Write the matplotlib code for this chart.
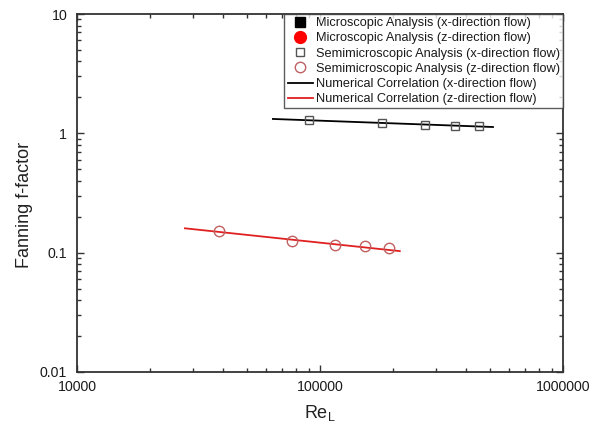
import matplotlib
matplotlib.use("Agg")
import matplotlib.pyplot as plt
from matplotlib.ticker import LogLocator, NullFormatter, FixedLocator, FixedFormatter

plt.rcParams['font.family'] = ['Liberation Sans', 'DejaVu Sans']

# Semimicroscopic analysis, x-direction flow
re_x = [90000, 180000, 270000, 360000, 450000]
f_x = [1.29, 1.22, 1.17, 1.16, 1.15]
# Semimicroscopic analysis, z-direction flow
re_z = [38400, 76800, 115200, 153600, 192000]
f_z = [0.153, 0.126, 0.117, 0.114, 0.109]
# Numerical correlations (end points)
corr_x_re = [64000, 515000]
corr_x_f = [1.32, 1.13]
corr_z_re = [27800, 213000]
corr_z_f = [0.160, 0.103]

xticks = [10000, 100000, 1000000]
xticklabels = ['10000', '100000', '1000000']
yticks = [0.01, 0.1, 1, 10]
yticklabels = ['0.01', '0.1', '1', '10']

labels = ['Microscopic Analysis (x-direction flow)',
          'Microscopic Analysis (z-direction flow)',
          'Semimicroscopic Analysis (x-direction flow)',
          'Semimicroscopic Analysis (z-direction flow)',
          'Numerical Correlation (x-direction flow)',
          'Numerical Correlation (z-direction flow)']

fig = plt.figure(figsize=(6.03, 4.26), dpi=100)
ax = fig.add_axes([0.1277, 0.1268, 0.806, 0.8403])

h1, = ax.plot([], [], 's', color='black', markersize=7, label=labels[0])
h2, = ax.plot([], [], 'o', color='red', markersize=8.5, label=labels[1])
h5, = ax.plot(corr_x_re, corr_x_f, '-', color='black', lw=1.3, label=labels[4])
h6, = ax.plot(corr_z_re, corr_z_f, '-', color='#e02020', lw=1.3, label=labels[5])
h3, = ax.plot(re_x, f_x, 's', mfc='none', mec='#555555', markersize=6, mew=1.0, label=labels[2])
h4, = ax.plot(re_z, f_z, 'o', mfc='none', mec='#c06060', markersize=7.5, mew=1.0, label=labels[3])

ax.set_xscale('log')
ax.set_yscale('log')
ax.set_xlim(10000, 1000000)
ax.set_ylim(0.01, 10)

ax.xaxis.set_major_locator(FixedLocator(xticks))
ax.xaxis.set_major_formatter(FixedFormatter(xticklabels))
ax.yaxis.set_major_locator(FixedLocator(yticks))
ax.yaxis.set_major_formatter(FixedFormatter(yticklabels))
ax.xaxis.set_minor_locator(LogLocator(base=10, subs=range(2, 10)))
ax.yaxis.set_minor_locator(LogLocator(base=10, subs=range(2, 10)))
ax.xaxis.set_minor_formatter(NullFormatter())
ax.yaxis.set_minor_formatter(NullFormatter())

ax.tick_params(which='both', direction='in', top=True, right=True, width=1.0,
               colors='#333333', labelcolor='#1a1a1a')
ax.tick_params(which='major', length=5, labelsize=10.2)
ax.tick_params(which='minor', length=3)
ax.tick_params(axis='y', which='major', pad=7)
ax.tick_params(axis='x', which='major', pad=5.5)
for s in ax.spines.values():
    s.set_linewidth(1.3)
    s.set_color('#333333')

ax.set_xlabel('Re$_\\mathregular{L}$', fontsize=13, color='#222222', labelpad=7)
ax.set_ylabel('Fanning f-factor', fontsize=13, color='#222222', labelpad=5, y=0.466)

leg = ax.legend([h1, h2, h3, h4, h5, h6], labels, loc='upper right', bbox_to_anchor=(1.0, 1.0),
                borderaxespad=0, fontsize=9.2, frameon=True, fancybox=False, edgecolor='#333333',
                handlelength=2.0, handletextpad=0.2, labelspacing=0.25, borderpad=0.25,
                labelcolor='#1a1a1a', markerscale=1.0)
leg.get_frame().set_linewidth(1.0)

fig.savefig('out.png', dpi=100)
